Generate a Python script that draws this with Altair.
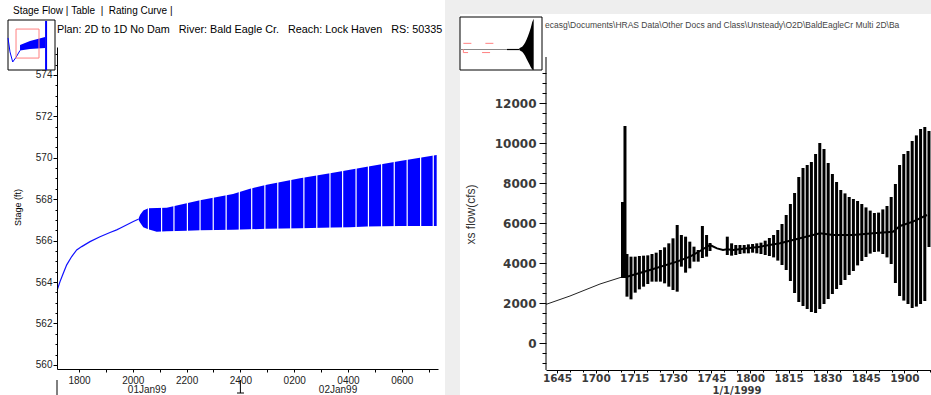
import altair as alt
import pandas as pd

# ---------------- Left panel data (stage, ft; time in hours after 18:00 on 31Dec98) ----------------
stage_line_h = [-0.807, -0.706, -0.584, -0.457, -0.271, -0.086, 0.100, 0.409, 0.781, 1.152, 1.401, 1.524, 2.019, 2.204]
stage_line_v = [563.62, 564.02, 564.42, 564.83, 565.23, 565.55, 565.71, 565.95, 566.19, 566.39, 566.52, 566.60, 566.92, 567.03]

band_h = [2.204, 2.268, 2.390, 2.576, 2.888, 3.260, 4.004, 4.498, 5.725, 6.357, 6.978, 8.216, 9.442, 10.074, 10.706, 11.933, 13.297]
band_top = [567.03, 567.24, 567.45, 567.56, 567.57, 567.59, 567.80, 567.95, 568.25, 568.50, 568.70, 569.01, 569.28, 569.42, 569.57, 569.85, 570.14]
band_bot = [567.03, 566.87, 566.65, 566.55, 566.43, 566.45, 566.48, 566.50, 566.52, 566.55, 566.57, 566.60, 566.63, 566.65, 566.68, 566.70, 566.71]

gap_h = [2.58, 3.07, 3.53, 4.03, 4.50, 4.99, 5.47, 5.96, 6.42, 6.91, 7.39, 7.87, 8.36, 8.84, 9.33,
         9.80, 10.30, 10.76, 11.25, 11.72, 12.20, 12.70, 13.17]

day_labels = ["01Jan99", "02Jan99"]
day_label_h = [2.53, 9.63]
day_break_h = [6.0]

# overview thumbnail of the stage series (same units, wider extent)
ov_line_h = [-5.76, -4.53, -2.86, -0.82, 1.65]
ov_line_v = [570.6, 563.1, 557.7, 560.2, 563.9]
ov_band_h = [1.65, 7.8, 17.1]
ov_band_top = [566.8, 569.0, 571.1]
ov_band_bot = [563.9, 564.7, 565.2]
ov_spike_h = [17.7]
ov_spike_lo = [553.4]
ov_spike_hi = [579.7]

# ---------------- Right panel data (flow, cfs; time in minutes after 16:00 on 1/1/1999) ----------------
base_t = [40.73, 50.05, 61.71, 70.26]
base_q = [1930, 2350, 2950, 3300]

mean_t = [70.26, 72.20, 81.14, 91.63, 96.68, 100.57, 104.46, 107.18, 109.51, 111.06, 113.39, 123.89,
          131.66, 139.43, 147.20, 152.25, 160.03, 167.80, 175.57, 178.29, 183.34, 188.78]
mean_q = [3300, 3317, 3650, 4067, 4317, 4600, 4900, 4733, 4650, 4683, 4650, 4817,
          4983, 5233, 5483, 5400, 5400, 5483, 5567, 5850, 6067, 6400]

osc_t = [70.45, 71.42, 72.20, 73.76, 75.39, 77.02, 78.65, 80.28, 81.92, 83.55, 85.18, 86.81, 88.45, 90.08,
         91.71, 93.34, 94.97, 96.61, 98.24, 99.87, 101.50, 103.13, 104.46,
         111.18, 112.85, 114.48, 116.11, 117.75, 119.38, 121.01, 122.64, 124.27, 125.91, 127.54, 129.17,
         130.80, 132.44, 134.07, 135.70, 137.33, 138.96, 140.60, 142.23, 143.86, 145.49, 147.12, 148.76,
         150.39, 152.02, 153.65, 155.28, 156.92, 158.55, 160.18, 161.81, 163.45, 165.08, 166.71, 168.34,
         169.97, 171.61, 173.24, 174.87, 176.50, 178.13, 179.77, 181.40, 183.03, 184.66, 186.29, 187.93, 189.56]
osc_hi = [7050, 10850, 4450, 4317, 4317, 4350, 4367, 4383, 4450, 4517, 4650, 4783, 4983, 5233,
          5900, 5400, 5317, 5067, 4817, 4650, 5850, 5400, 5000,
          5317, 4983, 4900, 4900, 4900, 4933, 4950, 4983, 5017, 5117, 5250, 5400,
          5650, 5950, 6400, 6950, 7500, 8300, 8750, 8900, 9050, 9450, 10000, 9700,
          9000, 8450, 8050, 7650, 7480, 7300, 7200, 7100, 6950, 6780, 6620, 6500,
          6520, 6680, 6850, 7300, 7950, 8900, 9450, 9600, 10100, 10380, 10700, 10800, 10600]
osc_lo = [3250, 3250, 2317, 2183, 2517, 2683, 2817, 2950, 3067, 3067, 3067, 2983, 2817, 2650,
          2567, 3817, 3517, 3733, 4067, 4067, 4250, 4317, 4600,
          4400, 4367, 4400, 4450, 4483, 4483, 4517, 4483, 4450, 4400, 4350, 4280,
          4120, 3900, 3650, 3100, 2500, 2050, 1850, 1700, 1550, 1500, 1700, 1950,
          2200, 2450, 2700, 2900, 3150, 3400, 3600, 3880, 4100, 4300, 4470, 4550,
          4570, 4450, 4280, 3950, 3000, 2350, 2120, 1950, 1750, 1820, 1950, 2100, 4800]

# overview thumbnail of the flow series
ov2_calm_t = [24.3, 253.0]
ov2_calm_q = [4000, 4000]
ov2_dark_t = [253.0, 313.0]
ov2_dark_q = [4000, 4000]
ov2_osc_t = [313, 320, 327, 334, 341, 348, 355, 362, 369, 376, 383]
ov2_osc_hi = [6000, 7500, 9000, 12000, 16000, 21000, 27000, 34000, 42000, 52000, 58000]
ov2_osc_lo = [3000, 1500, 0, -3000, -7000, -12000, -17000, -22000, -27000, -31000, -31800]

title_left = "Plan: 2D to 1D No Dam\u00a0\u00a0\u00a0River: Bald Eagle Cr.\u00a0\u00a0\u00a0Reach: Lock Haven\u00a0\u00a0\u00a0RS: 50335"
tabs_text = "Stage Flow\u00a0|\u00a0Table\u00a0\u00a0|\u00a0\u00a0Rating Curve\u00a0|"
path_text = "ecasg\\Documents\\HRAS Data\\Other Docs and Class\\Unsteady\\O2D\\BaldEagleCr Multi 2D\\Ba"

one = pd.DataFrame({"k": [0]})

# ---------------- Left chart ----------------
LW, LH = 381, 322
L_XDOM = [-0.818, 13.346]
L_YDOM = [559.80, 575.35]
xs_l = alt.Scale(domain=L_XDOM, nice=False, zero=False)
ys_l = alt.Scale(domain=L_YDOM, nice=False, zero=False)
ax_l = alt.Axis(values=list(range(0, 14)), title=None, grid=False, domainColor="black", tickColor="black",
                tickSize=3, labelPadding=3, labelFont="Liberation Sans", labelFontSize=10, labelColor="#222", zindex=1,
                labelExpr="datum.value % 2 != 0 ? '' : (datum.value == 6 ? '2400' : format((18 + datum.value) % 24, '02d') + '00')")
ay_l = alt.Axis(values=[560 + 0.5 * i for i in range(31)], title="Stage (ft)", grid=False, domainColor="black",
                tickColor="black", tickSize={"condition": {"test": "datum.value % 2 == 0", "value": 4}, "value": 2},
                labelPadding=1, labelFont="Liberation Sans", labelFontSize=10, labelColor="#222", zindex=1,
                labelExpr="datum.value % 2 == 0 ? datum.value : ''",
                titleFont="Liberation Sans", titleFontSize=9, titleFontWeight="normal", titleColor="black",
                titleX=-40, titleY=160, titleAlign="center", titleBaseline="middle", titleAngle=-90)

left_bg = alt.Chart(one).mark_rect(color="white").encode(
    x=alt.value(-57), x2=alt.value(388), y=alt.value(-47), y2=alt.value(348))

df_line = pd.DataFrame({"h": stage_line_h, "v": stage_line_v})
left_line = alt.Chart(df_line).mark_line(color="#1010ff", strokeWidth=1.2).encode(
    x=alt.X("h:Q", scale=xs_l, axis=ax_l), y=alt.Y("v:Q", scale=ys_l, axis=ay_l))

df_band = pd.DataFrame({"h": band_h, "top": band_top, "bot": band_bot})
left_band = alt.Chart(df_band).mark_area(color="#0000ff", opacity=1).encode(
    x=alt.X("h:Q", scale=xs_l, axis=ax_l), y=alt.Y("bot:Q", scale=ys_l, axis=ay_l), y2="top:Q")

df_gap = pd.DataFrame({"h": gap_h})
left_gaps = alt.Chart(df_gap).mark_rule(color="white", strokeWidth=1.2).encode(
    x=alt.X("h:Q", scale=xs_l, axis=ax_l), y=alt.datum(566.2, scale=ys_l, axis=ay_l), y2=alt.datum(570.4))

df_days = pd.DataFrame({"h": day_label_h, "lab": day_labels})
left_days = alt.Chart(df_days).mark_text(font="Liberation Sans", fontSize=10, color="#222", baseline="middle").encode(
    x=alt.X("h:Q", scale=xs_l, axis=ax_l), y=alt.value(343), text="lab:N")

df_break = pd.DataFrame({"h": day_break_h})
left_break = alt.Chart(df_break).mark_rule(color="black", strokeWidth=1).encode(
    x=alt.X("h:Q", scale=xs_l, axis=ax_l), y=alt.value(333), y2=alt.value(346))
left_break_foot = alt.Chart(df_break).mark_rule(color="black", strokeWidth=1).encode(
    x=alt.value(180), x2=alt.value(187), y=alt.value(346))
left_start = alt.Chart(pd.DataFrame({"h": [L_XDOM[0]]})).mark_rule(color="black", strokeWidth=1).encode(
    x=alt.X("h:Q", scale=xs_l, axis=ax_l), y=alt.value(333), y2=alt.value(348))

left_title = alt.Chart(one).mark_text(text=title_left, font="Liberation Sans", fontSize=10.8, color="black",
                                      align="left", baseline="middle").encode(x=alt.value(0), y=alt.value(-17))
left_tabs = alt.Chart(one).mark_text(text=tabs_text, font="Liberation Sans", fontSize=10, color="black",
                                     align="left", baseline="middle").encode(x=alt.value(-44), y=alt.value(-36))
left_frame = alt.Chart(one).mark_rect(fill="white", stroke="black", strokeWidth=1).encode(
    x=alt.value(-49), x2=alt.value(-2), y=alt.value(-27), y2=alt.value(23))

left_main = alt.layer(left_bg, left_band, left_gaps, left_line, left_days, left_break, left_break_foot, left_start,
                      left_title, left_tabs, left_frame)

# thumbnail: own scales mapped into the small frame
ixs_l = alt.Scale(domain=[-5.76, 23.2], range=[-49, -2], nice=False, zero=False)
iys_l = alt.Scale(domain=[553.4, 580.2], range=[23, -27], nice=False, zero=False)
ov_l1 = alt.Chart(pd.DataFrame({"h": ov_line_h, "v": ov_line_v})).mark_line(color="#0000ff", strokeWidth=1).encode(
    x=alt.X("h:Q", scale=ixs_l, axis=None), y=alt.Y("v:Q", scale=iys_l, axis=None))
ov_l2 = alt.Chart(pd.DataFrame({"h": ov_band_h, "t": ov_band_top, "b": ov_band_bot})).mark_area(color="#0000ff").encode(
    x=alt.X("h:Q", scale=ixs_l, axis=None), y=alt.Y("b:Q", scale=iys_l, axis=None), y2="t:Q")
ov_l3 = alt.Chart(pd.DataFrame({"h": ov_spike_h, "lo": ov_spike_lo, "hi": ov_spike_hi})).mark_rule(color="#0000ff", strokeWidth=2).encode(
    x=alt.X("h:Q", scale=ixs_l, axis=None), y=alt.Y("lo:Q", scale=iys_l, axis=None), y2="hi:Q")
ov_l4 = alt.Chart(pd.DataFrame({"x0": [L_XDOM[0]], "x1": [L_XDOM[1]], "y0": [L_YDOM[0]], "y1": [L_YDOM[1]]})).mark_rect(
    fill=None, stroke="#ff8080", strokeWidth=1).encode(
    x=alt.X("x0:Q", scale=ixs_l, axis=None), x2="x1:Q", y=alt.Y("y0:Q", scale=iys_l, axis=None), y2="y1:Q")
left_thumb = alt.layer(ov_l1, ov_l2, ov_l3, ov_l4)

left = alt.layer(left_main, left_thumb).resolve_scale(x="independent", y="independent").properties(width=LW, height=LH)

# ---------------- Right chart ----------------
RW, RH = 385, 323
R_XDOM = [40.73, 190.34]
R_YDOM = [-1350, 14800]
R_YAXIS_TOP = 14300
xs_r = alt.Scale(domain=R_XDOM, nice=False, zero=False)
ys_r = alt.Scale(domain=R_YDOM, nice=False, zero=False)
ax_r = alt.Axis(values=[45 + 5 * i for i in range(30)], title=None, grid=False, domainColor="black",
                tickColor="black", tickSize={"condition": {"test": "datum.value % 15 == 0", "value": 3}, "value": 2},
                labelPadding=0, labelFont="DejaVu Sans", labelFontWeight="bold", labelFontSize=10.5,
                labelColor="#3a3a3a", labelOverlap=False, labelBound=False, labelFlush=False,
                labelExpr="datum.value % 15 != 0 ? '' : format(16 + floor(datum.value / 60), '02d') + format(datum.value % 60, '02d')")
ay_r = alt.Axis(values=[-1000 + 500 * i for i in range(30)], title="xs flow(cfs)", grid=False, domain=False,
                tickColor="black", tickSize={"condition": {"test": "datum.value % 2000 == 0", "value": 7}, "value": 4},
                labelPadding=3, labelFont="DejaVu Sans", labelFontWeight="bold", labelFontSize=12,
                labelColor="#3a3a3a", labelExpr="datum.value % 2000 == 0 ? datum.value : ''",
                titleFont="Liberation Sans", titleFontSize=12, titleFontWeight="normal", titleColor="#333",
                titleX=-76, titleY=167, titleAlign="center", titleBaseline="middle", titleAngle=-90)

right_strip = alt.Chart(one).mark_rect(color="#eeeeee").encode(
    x=alt.value(-101), x2=alt.value(-86), y=alt.value(-47), y2=alt.value(348))
right_topband = alt.Chart(one).mark_rect(color="#eeeeee").encode(
    x=alt.value(-86), x2=alt.value(385), y=alt.value(-47), y2=alt.value(-33))

right_yline = alt.Chart(one).mark_rule(color="black", strokeWidth=1).encode(
    x=alt.value(0), y=alt.datum(R_YDOM[0], scale=ys_r, axis=ay_r), y2=alt.datum(R_YAXIS_TOP))

df_base = pd.DataFrame({"t": base_t, "q": base_q})
right_base = alt.Chart(df_base).mark_line(color="#222", strokeWidth=1).encode(
    x=alt.X("t:Q", scale=xs_r, axis=ax_r), y=alt.Y("q:Q", scale=ys_r, axis=ay_r))

df_osc = pd.DataFrame({"t": osc_t, "hi": osc_hi, "lo": osc_lo})
right_osc = alt.Chart(df_osc).mark_rule(color="black", strokeWidth=3).encode(
    x=alt.X("t:Q", scale=xs_r, axis=ax_r), y=alt.Y("lo:Q", scale=ys_r, axis=ay_r), y2="hi:Q")

df_mean = pd.DataFrame({"t": mean_t, "q": mean_q})
right_mean = alt.Chart(df_mean).mark_line(color="black", strokeWidth=2).encode(
    x=alt.X("t:Q", scale=xs_r, axis=ax_r), y=alt.Y("q:Q", scale=ys_r, axis=ay_r))

right_date = alt.Chart(one).mark_text(text="1/1/1999", font="DejaVu Sans", fontWeight="bold", fontSize=10,
                                      color="#3a3a3a", baseline="middle").encode(x=alt.value(191), y=alt.value(344))
right_path = alt.Chart(one).mark_text(text=path_text, font="Liberation Sans", fontSize=8.5, color="#444",
                                      align="left", baseline="middle").encode(x=alt.value(-1), y=alt.value(-22))
right_frame = alt.Chart(one).mark_rect(fill="white", stroke="black", strokeWidth=1).encode(
    x=alt.value(-86), x2=alt.value(-4), y=alt.value(-30), y2=alt.value(23))

right_main = alt.layer(right_strip, right_topband, right_yline, right_base, right_osc, right_mean, right_date,
                       right_path, right_frame)

ixs_r = alt.Scale(domain=[24.3, 423.5], range=[-86, -4], nice=False, zero=False)
iys_r = alt.Scale(domain=[-31850, 60900], range=[23, -30], nice=False, zero=False)
ov_r1 = alt.Chart(pd.DataFrame({"t": ov2_calm_t, "q": ov2_calm_q})).mark_line(color="#888888", strokeWidth=1.2).encode(
    x=alt.X("t:Q", scale=ixs_r, axis=None), y=alt.Y("q:Q", scale=iys_r, axis=None))
ov_r2 = alt.Chart(pd.DataFrame({"t": ov2_dark_t, "q": ov2_dark_q})).mark_line(color="black", strokeWidth=1.2).encode(
    x=alt.X("t:Q", scale=ixs_r, axis=None), y=alt.Y("q:Q", scale=iys_r, axis=None))
ov_r3 = alt.Chart(pd.DataFrame({"t": ov2_osc_t, "hi": ov2_osc_hi, "lo": ov2_osc_lo})).mark_area(color="black").encode(
    x=alt.X("t:Q", scale=ixs_r, axis=None), y=alt.Y("lo:Q", scale=iys_r, axis=None), y2="hi:Q")
ov_r4 = alt.Chart(pd.DataFrame({"x0": [R_XDOM[0]], "x1": [R_XDOM[1]], "y0": [R_YDOM[0]], "y1": [R_YDOM[1]]})).mark_rect(
    fill=None, stroke="#ff8080", strokeWidth=1, strokeDash=[8, 14]).encode(
    x=alt.X("x0:Q", scale=ixs_r, axis=None), x2="x1:Q", y=alt.Y("y0:Q", scale=iys_r, axis=None), y2="y1:Q")
right_thumb = alt.layer(ov_r1, ov_r2, ov_r3, ov_r4)

right = alt.layer(right_main, right_thumb).resolve_scale(x="independent", y="independent").properties(width=RW, height=RH)

chart = alt.hconcat(left, right, spacing=108, bounds="flush").properties(
    padding=0, background="white"
).configure_view(strokeWidth=0)

chart.save("out.html", embed_options={"renderer": "svg", "actions": False})
